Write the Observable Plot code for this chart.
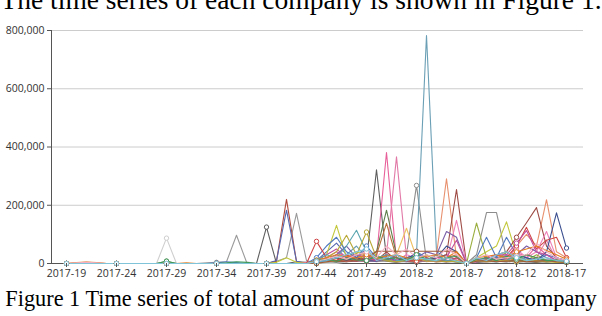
<!DOCTYPE html>
<html>
<head>
<meta charset="utf-8">
<script src="https://cdn.jsdelivr.net/npm/d3@7"></script>
<script src="https://cdn.jsdelivr.net/npm/@observablehq/plot@0.6"></script>
<style>
  html, body { margin: 0; padding: 0; background: #fff; width: 602px; height: 316px; overflow: hidden; position: relative; }
  .serif { position: absolute; left: 0; width: 602px; text-align: center; white-space: nowrap; font-family: "Liberation Serif", "Times New Roman", serif; color: #000; z-index: 2; }
  #top { top: -14px; font-size: 27.5px; line-height: 27.5px; }
  #cap { top: 288px; font-size: 22.3px; line-height: 22px; }
  #chart { position: absolute; left: 0; top: 0; z-index: 1; }
</style>
</head>
<body>
<div id="chart"></div>
<div id="top" class="serif">The time series of each company is shown in Figure 1.</div>
<div id="cap" class="serif">Figure 1 Time series of total amount of purchase of each company</div>
<script>
// Week categories (x axis)
const weeks = [
  "2017-19","2017-20","2017-21","2017-22","2017-23","2017-24","2017-25","2017-26","2017-27","2017-28",
  "2017-29","2017-30","2017-31","2017-32","2017-33","2017-34","2017-35","2017-36","2017-37","2017-38",
  "2017-39","2017-40","2017-41","2017-42","2017-43","2017-44","2017-45","2017-46","2017-47","2017-48",
  "2017-49","2017-50","2017-51","2017-52","2018-1","2018-2","2018-3","2018-4","2018-5","2018-6",
  "2018-7","2018-8","2018-9","2018-10","2018-11","2018-12","2018-13","2018-14","2018-15","2018-16",
  "2018-17"
];
const xTickLabels = ["2017-19","2017-24","2017-29","2017-34","2017-39","2017-44","2017-49","2018-2","2018-7","2018-12","2018-17"];
const yTicks = [0, 200000, 400000, 600000, 800000];

// Company series, purchase amounts in thousands
const c01 = [0,0,0,0,0,0,0,0,0,0, 87,0,0,0,0,0,0,0,0,0, 0,0,0,0,0,0,0,0,5,12, 18,8,25,30,12,6,20,8,4,10, 0,10,6,4,12,8,15,6,10,8, 4];
const c02 = [0,0,0,0,0,0,0,0,0,0, 0,0,0,0,2,4,6,97,5,0, 0,8,20,172,10,0,4,10,6,8, 12,6,10,4,8,14,6,10,5,8, 0,6,12,8,10,4,6,8,12,6, 5];
const c03 = [0,0,0,0,0,0,0,0,0,0, 0,0,0,0,0,0,0,0,0,0, 125,0,0,6,4,8,10,6,12,8, 10,322,20,8,6,4,10,6,8,5, 0,4,6,8,5,10,6,4,8,6, 3];
const c04 = [0,0,0,0,0,0,0,0,0,0, 0,0,0,0,0,0,0,0,0,0, 0,0,0,0,0,2,6,4,8,10, 6,10,8,4,30,268,10,30,8,6, 0,30,175,175,20,10,6,8,4,10, 6];
const c05 = [0,0,0,0,0,0,0,0,0,0, 0,0,0,0,0,0,0,0,0,0, 0,8,220,6,0,4,8,10,6,12, 8,14,10,6,8,12,10,6,8,10, 0,8,6,10,12,8,10,6,8,12, 6];
const c06 = [0,0,0,0,0,0,0,0,0,0, 0,0,0,0,0,0,0,0,0,0, 0,10,183,8,0,10,40,70,30,20, 50,10,30,20,8,40,10,20,30,10, 0,10,20,10,30,10,20,8,12,10, 6];
const c07 = [0,0,0,0,0,0,0,0,0,0, 0,0,0,0,0,0,0,0,0,0, 0,0,0,0,4,10,20,40,20,10, 10,20,381,10,20,30,10,6,20,12, 0,10,20,30,20,40,20,60,30,10, 8];
const c08 = [0,0,0,0,0,0,0,0,0,0, 0,0,0,0,0,0,0,0,0,0, 0,0,0,0,0,6,12,30,14,8, 20,10,30,366,20,10,8,20,30,12, 0,6,10,20,30,20,10,20,80,12, 10];
const c09 = [0,0,0,0,0,0,0,0,0,0, 8,0,0,0,0,0,0,0,0,0, 0,0,0,0,0,4,10,6,20,10, 15,40,183,30,10,15,8,30,10,6, 0,10,15,20,10,15,8,20,10,6, 4];
const c10 = [0,0,0,0,0,0,0,0,0,0, 0,0,0,0,0,0,0,0,0,0, 0,0,0,0,0,10,20,8,12,20, 10,30,138,20,10,8,15,10,20,30, 0,10,15,8,20,10,30,20,10,12, 8];
const c11 = [0,0,0,0,0,0,0,0,0,0, 0,0,0,0,0,0,0,0,0,0, 0,0,0,0,0,0,10,20,30,60, 20,10,15,8,20,30,783,40,20,8, 0,10,8,6,10,6,8,10,6,8, 6];
const c12 = [0,0,0,0,0,0,0,0,0,0, 0,0,0,0,0,0,0,0,0,0, 0,0,0,0,0,0,6,10,20,10, 30,20,10,30,121,20,10,8,20,6, 0,10,20,8,12,20,10,8,6,10, 4];
const c13 = [0,0,0,0,0,0,0,0,0,0, 0,0,0,0,0,0,0,0,0,0, 0,4,20,4,0,10,30,131,20,40, 30,10,20,10,8,20,10,6,8,10, 0,20,40,60,143,30,10,6,8,10, 6];
const c14 = [0,2,4,2,0,0,0,0,0,0, 0,0,0,0,0,0,0,0,0,0, 0,0,0,0,0,8,20,10,30,20, 40,20,10,30,8,20,10,30,291,20, 0,10,20,30,10,60,100,60,219,40, 20];
const c15 = [0,0,0,0,0,0,0,0,0,0, 0,0,0,0,0,0,0,0,0,0, 0,0,0,0,0,6,10,20,10,8, 20,10,40,10,20,15,10,20,30,254, 0,10,20,30,40,90,140,192,60,20, 10];
const c16 = [0,0,0,0,0,0,0,0,0,0, 0,0,0,0,0,0,0,0,0,0, 0,0,0,0,0,4,10,20,8,14, 10,8,20,10,30,20,8,20,10,148, 0,6,10,30,20,50,20,40,110,20, 8];
const c17 = [0,0,0,0,0,0,0,0,0,0, 0,0,0,0,0,0,0,0,0,0, 0,0,0,0,0,6,10,30,60,20, 30,10,20,10,6,20,40,30,110,90, 0,10,8,20,10,30,60,40,20,10, 6];
const c18 = [0,0,0,0,0,0,0,0,0,0, 0,0,0,0,0,0,0,0,0,0, 0,0,0,0,0,0,10,20,10,30, 10,20,10,6,20,10,30,8,10,6, 0,139,20,10,40,20,10,30,10,8, 6];
const c19 = [0,0,0,0,0,0,0,0,0,0, 0,0,0,0,0,2,6,3,0,0, 0,0,0,0,0,20,60,90,40,20, 60,20,10,30,10,40,20,10,8,20, 0,20,90,20,90,30,20,10,30,20, 10];
const c20 = [0,0,0,0,0,0,0,0,0,0, 0,0,0,0,0,0,0,0,0,0, 0,0,0,0,0,4,10,20,10,20, 10,8,20,10,20,30,10,20,60,40, 0,10,20,10,20,30,20,10,40,174, 53];
const c21 = [0,0,0,0,0,0,0,0,0,0, 0,0,0,0,0,0,0,0,0,0, 0,0,0,0,0,76,20,10,30,10, 20,10,30,20,10,8,20,10,6,20, 0,10,20,30,20,60,124,50,80,90, 20];
const c22 = [0,0,0,0,0,0,0,0,0,0, 0,0,0,0,0,0,0,0,0,0, 0,0,0,0,0,10,30,50,20,30, 20,10,20,8,10,20,10,8,20,80, 0,10,20,30,30,70,113,40,30,10, 8];
const c23 = [0,0,0,0,0,0,0,0,0,0, 0,0,0,0,0,0,0,0,0,0, 0,0,0,0,0,10,30,20,60,114, 40,20,30,10,10,30,10,30,10,8, 0,8,10,6,10,30,10,8,10,6, 4];
const c24 = [0,0,0,0,0,0,0,0,0,0, 0,0,0,0,0,0,0,0,0,0, 0,0,0,0,0,6,20,40,97,30, 108,20,10,6,10,20,8,10,6,8, 0,10,6,8,10,6,8,10,6,4, 4];
const c25 = [0,0,0,0,0,0,0,0,0,0, 0,0,0,0,0,0,0,0,0,0, 0,0,0,0,0,0,6,10,8,12, 20,42,42,42,42,42,42,42,42,42, 0,8,10,6,8,10,6,8,10,6, 4];
const c26 = [0,3,5,3,0,0,0,0,0,0, 0,0,2,0,0,0,0,0,0,0, 0,0,0,0,0,12,20,30,25,18, 30,20,25,30,20,18,25,30,20,40, 0,20,25,30,20,40,50,60,45,30, 15];
const c27 = [0,0,0,0,0,0,0,0,0,0, 8,0,0,0,0,0,2,6,4,0, 0,0,0,0,0,10,15,8,20,12, 10,25,15,20,10,30,15,10,20,25, 0,15,20,10,25,15,30,20,10,12, 6];
const c28 = [0,2,4,2,0,0,0,0,0,0, 0,0,0,0,0,0,0,0,0,0, 0,0,0,0,0,8,15,25,15,30, 40,20,60,30,50,20,30,20,50,30, 0,20,30,15,20,25,30,70,40,20, 10];
const c29 = [0,0,0,0,0,0,0,0,0,0, 0,0,0,0,0,0,0,0,0,0, 0,0,0,0,0,6,10,20,30,40, 50,10,20,30,10,20,15,10,20,8, 0,20,10,30,40,20,10,15,20,10, 8];

const seriesValues = [c01,c02,c03,c04,c05,c06,c07,c08,c09,c10,c11,c12,c13,c14,c15,c16,c17,c18,c19,c20,c21,c22,c23,c24,c25,c26,c27,c28,c29];
const companies = seriesValues.map((_, k) => "Company " + (k + 1));
const palette = [
  "#cfcfcf","#9a9a9a","#5f5f5f","#8c8c8c","#b04a3c","#5668b0","#e8609a","#e27aa8","#5c7f4a","#b8703a",
  "#6a9fb5","#eec060","#c3c83c","#e8906e","#9e4b45","#ee80b8","#7b5ea7","#9aae3f","#4f79c0","#3b4f8f",
  "#d04545","#c04f9e","#5ba6b0","#b8a838","#a05a3a","#e67e22","#3f9b5b","#f4b0c0","#7fc4d8"
];

const rows = seriesValues.flatMap((vals, k) =>
  vals.map((v, i) => ({company: companies[k], week: weeks[i], i, value: v * 1000}))
);

const chart = Plot.plot({
  width: 602,
  height: 282,
  marginLeft: 51,
  marginRight: 19,
  marginTop: 30,
  marginBottom: 19,
  style: {fontFamily: "'Open Sans', 'Noto Sans', sans-serif", fontSize: "10.5px", color: "#333", background: "transparent"},
  x: {type: "point", domain: weeks, padding: 0, insetLeft: 4, insetRight: 6, label: null},
  y: {domain: [0, 800000], label: null},
  color: {domain: companies, range: palette},
  marks: [
    Plot.gridY(yTicks.slice(1), {stroke: "#cccccc", strokeOpacity: 1}),
    Plot.ruleY([0], {stroke: "#555"}),
    Plot.frame({anchor: "left", stroke: "#555"}),
    Plot.line(rows, {x: "week", y: "value", z: "company", stroke: "company", strokeWidth: 1.1}),
    Plot.dot(rows.filter(d => xTickLabels.includes(d.week)), {x: "week", y: "value", stroke: "company", fill: "white", r: 2.2, strokeWidth: 1}),
    Plot.axisY({ticks: yTicks, tickFormat: d3.format(","), tickSize: 4, tickPadding: 3, stroke: "#555", label: null}),
    Plot.axisX({ticks: xTickLabels, tickSize: 4, tickPadding: 2, stroke: "#555", label: null})
  ]
});
document.getElementById("chart").appendChild(chart);
</script>
</body>
</html>
